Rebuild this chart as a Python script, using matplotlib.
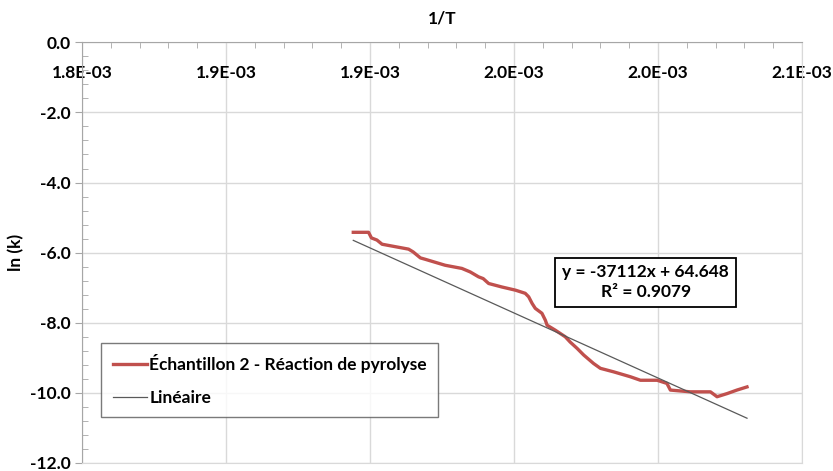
import matplotlib
matplotlib.use("Agg")
import matplotlib.pyplot as plt
from matplotlib.ticker import MultipleLocator, FixedLocator
import numpy as np

plt.rcParams['font.family'] = ['Lato', 'DejaVu Sans']
plt.rcParams['font.weight'] = 'bold'

# 1/T (in 1e-3 K^-1) and ln(k)
inv_t = [1.8942, 1.8995, 1.9005, 1.9024, 1.9042, 1.9088, 1.9134, 1.9150,
         1.9175, 1.9192, 1.9261, 1.9319, 1.9348, 1.9377, 1.9393, 1.9412,
         1.9458, 1.9505, 1.9539, 1.9551, 1.9563, 1.9574, 1.9597, 1.9609,
         1.9615, 1.9643, 1.9678, 1.9695, 1.9719, 1.9742, 1.9776, 1.9800,
         1.9846, 1.9904, 1.9939, 1.9997, 2.0031, 2.0043, 2.0112, 2.0182,
         2.0205, 2.0240, 2.0274, 2.0309]
ln_k = [-5.42, -5.42, -5.58, -5.64, -5.76, -5.83, -5.90, -5.98,
        -6.15, -6.19, -6.36, -6.45, -6.55, -6.69, -6.74, -6.88,
        -6.98, -7.07, -7.16, -7.26, -7.45, -7.59, -7.73, -7.93,
        -8.07, -8.21, -8.40, -8.55, -8.73, -8.92, -9.16, -9.30,
        -9.40, -9.54, -9.64, -9.64, -9.73, -9.92, -9.97, -9.97,
        -10.11, -10.02, -9.92, -9.83]

slope = -37112
intercept = 64.648
r2 = 0.9079

x_ticks = [1.80e-3, 1.85e-3, 1.90e-3, 1.95e-3, 2.00e-3, 2.05e-3]
x_labels = ["1.8E-03", "1.9E-03", "1.9E-03", "2.0E-03", "2.0E-03", "2.1E-03"]
y_ticks = [0, -2, -4, -6, -8, -10, -12]

x = np.array(inv_t) * 1e-3
y = np.array(ln_k)

fs = 12.5
fig = plt.figure(figsize=(8.33, 4.71), dpi=100)
ax = fig.add_axes([0.0984, 0.017, 0.8644, 0.8932])

grid_c = '#d9d9d9'
ax.plot(x, y, color='#c0504d', lw=2.4, solid_joinstyle='round',
        label='Échantillon 2 - Réaction de pyrolyse', zorder=3)
xf = np.array([x.min(), x.max()])
ax.plot(xf, slope * xf + intercept, color='#595959', lw=0.9,
        label='Linéaire', zorder=4)

ax.set_xlim(1.80e-3, 2.05e-3)
ax.set_ylim(-12, 0)
ax.xaxis.set_major_locator(FixedLocator(x_ticks))
ax.set_xticklabels(x_labels)
ax.xaxis.set_minor_locator(MultipleLocator(0.01e-3))
ax.set_yticks(y_ticks)
ax.set_yticklabels([f"{v:.1f}" for v in y_ticks])
ax.yaxis.set_minor_locator(MultipleLocator(0.4))

ax.grid(True, which='major', color=grid_c, lw=1.0)
ax.set_axisbelow(True)

ax.xaxis.tick_top()
ax.xaxis.set_label_position('top')
ax.tick_params(axis='x', which='major', length=0, labelsize=fs,
               pad=-28, colors='black')
ax.tick_params(axis='x', which='minor', direction='in', length=4,
               color='#a6a6a6', top=True, bottom=False)
ax.tick_params(axis='y', which='major', direction='out', length=5,
               color='#a6a6a6', labelsize=fs, pad=3)
ax.tick_params(axis='y', which='minor', direction='in', length=4,
               color='#a6a6a6')

for side in ['left', 'top']:
    ax.spines[side].set_color('#a6a6a6')
for side in ['right', 'bottom']:
    ax.spines[side].set_color(grid_c)

ax.set_xlabel('1/T', fontsize=fs, fontweight='bold', labelpad=10)
ax.set_ylabel('ln (k)', fontsize=fs, fontweight='bold', labelpad=4)

leg = ax.legend(loc='lower left', bbox_to_anchor=(0.027, 0.109),
                fontsize=fs, frameon=True, fancybox=False,
                handlelength=2.0, handletextpad=0.1, borderpad=0.65,
                labelspacing=0.95, borderaxespad=0)
leg.get_frame().set_edgecolor('#595959')
leg.get_frame().set_linewidth(1.0)

ax.text(0.783, 0.430, f"y = {slope}x + {intercept}\nR² = {r2}",
        transform=ax.transAxes, ha='center', va='center', fontsize=fs,
        fontweight='bold', linespacing=1.25, zorder=5,
        bbox=dict(boxstyle='square,pad=0.4', fc='white', ec='black', lw=1.3))

fig.savefig('out.png', dpi=100)
